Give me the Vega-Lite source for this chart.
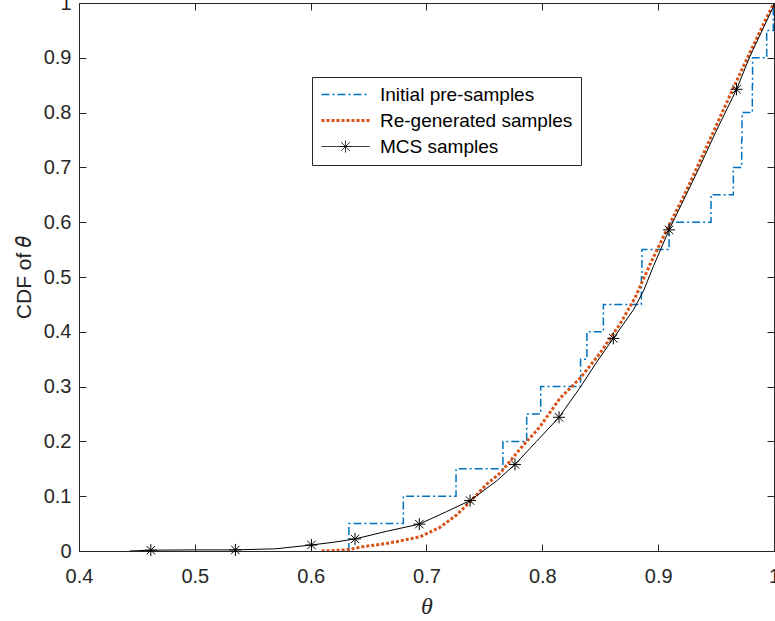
{
  "$schema": "https://vega.github.io/schema/vega-lite/v6.json",
  "width": 695,
  "height": 548,
  "autosize": {"type": "none"},
  "padding": {"left": 79, "top": 3, "right": 1, "bottom": 70},
  "background": "white",
  "config": {
    "view": {"stroke": "#262626", "strokeWidth": 1},
    "axis": {
      "grid": false,
      "labelFont": "Liberation Sans",
      "labelFontSize": 20,
      "labelColor": "#262626",
      "domainColor": "#262626",
      "tickColor": "#262626",
      "tickSize": -7,
      "labelFlush": false,
      "labelOverlap": false,
      "labelBound": false,
      "titleColor": "#262626",
      "titleFontWeight": "normal"
    }
  },
  "datasets": {
    "blue": [
      {"i": 0, "series": "Initial pre-samples", "theta": 0.633, "cdf": 0},
      {"i": 1, "series": "Initial pre-samples", "theta": 0.633, "cdf": 0.05},
      {"i": 2, "series": "Initial pre-samples", "theta": 0.68, "cdf": 0.1},
      {"i": 3, "series": "Initial pre-samples", "theta": 0.7255, "cdf": 0.15},
      {"i": 4, "series": "Initial pre-samples", "theta": 0.766, "cdf": 0.2},
      {"i": 5, "series": "Initial pre-samples", "theta": 0.7865, "cdf": 0.25},
      {"i": 6, "series": "Initial pre-samples", "theta": 0.7986, "cdf": 0.3},
      {"i": 7, "series": "Initial pre-samples", "theta": 0.833, "cdf": 0.35},
      {"i": 8, "series": "Initial pre-samples", "theta": 0.8385, "cdf": 0.4},
      {"i": 9, "series": "Initial pre-samples", "theta": 0.8527, "cdf": 0.45},
      {"i": 10, "series": "Initial pre-samples", "theta": 0.8855, "cdf": 0.5},
      {"i": 11, "series": "Initial pre-samples", "theta": 0.886, "cdf": 0.55},
      {"i": 12, "series": "Initial pre-samples", "theta": 0.9094, "cdf": 0.6},
      {"i": 13, "series": "Initial pre-samples", "theta": 0.9456, "cdf": 0.65},
      {"i": 14, "series": "Initial pre-samples", "theta": 0.9649, "cdf": 0.7},
      {"i": 15, "series": "Initial pre-samples", "theta": 0.9721, "cdf": 0.75},
      {"i": 16, "series": "Initial pre-samples", "theta": 0.9724, "cdf": 0.8},
      {"i": 17, "series": "Initial pre-samples", "theta": 0.9813, "cdf": 0.85},
      {"i": 18, "series": "Initial pre-samples", "theta": 0.9815, "cdf": 0.9},
      {"i": 19, "series": "Initial pre-samples", "theta": 0.9937, "cdf": 0.95},
      {"i": 20, "series": "Initial pre-samples", "theta": 0.9994, "cdf": 1.0},
      {"i": 21, "series": "Initial pre-samples", "theta": 1.0, "cdf": 1.0}
    ],
    "orange": [
      {"series": "Re-generated samples", "theta": 0.6095, "cdf": 0},
      {"series": "Re-generated samples", "theta": 0.62, "cdf": 0.001},
      {"series": "Re-generated samples", "theta": 0.631, "cdf": 0.002},
      {"series": "Re-generated samples", "theta": 0.6455, "cdf": 0.008},
      {"series": "Re-generated samples", "theta": 0.66, "cdf": 0.012},
      {"series": "Re-generated samples", "theta": 0.674, "cdf": 0.017},
      {"series": "Re-generated samples", "theta": 0.6944, "cdf": 0.026},
      {"series": "Re-generated samples", "theta": 0.7116, "cdf": 0.043},
      {"series": "Re-generated samples", "theta": 0.7261, "cdf": 0.066},
      {"series": "Re-generated samples", "theta": 0.7376, "cdf": 0.09},
      {"series": "Re-generated samples", "theta": 0.752, "cdf": 0.122},
      {"series": "Re-generated samples", "theta": 0.7635, "cdf": 0.142},
      {"series": "Re-generated samples", "theta": 0.7807, "cdf": 0.186},
      {"series": "Re-generated samples", "theta": 0.798, "cdf": 0.227},
      {"series": "Re-generated samples", "theta": 0.8153, "cdf": 0.279},
      {"series": "Re-generated samples", "theta": 0.8325, "cdf": 0.315},
      {"series": "Re-generated samples", "theta": 0.8498, "cdf": 0.361},
      {"series": "Re-generated samples", "theta": 0.867, "cdf": 0.414},
      {"series": "Re-generated samples", "theta": 0.88, "cdf": 0.462},
      {"series": "Re-generated samples", "theta": 0.893, "cdf": 0.523},
      {"series": "Re-generated samples", "theta": 0.9074, "cdf": 0.586},
      {"series": "Re-generated samples", "theta": 0.9217, "cdf": 0.646},
      {"series": "Re-generated samples", "theta": 0.936, "cdf": 0.711},
      {"series": "Re-generated samples", "theta": 0.9505, "cdf": 0.778},
      {"series": "Re-generated samples", "theta": 0.9649, "cdf": 0.845},
      {"series": "Re-generated samples", "theta": 0.9793, "cdf": 0.91},
      {"series": "Re-generated samples", "theta": 0.9937, "cdf": 0.974},
      {"series": "Re-generated samples", "theta": 1.0, "cdf": 1.0}
    ],
    "mcs": [
      {"series": "MCS samples", "theta": 0.4436, "cdf": 0},
      {"series": "MCS samples", "theta": 0.462, "cdf": 0.0015},
      {"series": "MCS samples", "theta": 0.5, "cdf": 0.002},
      {"series": "MCS samples", "theta": 0.535, "cdf": 0.002},
      {"series": "MCS samples", "theta": 0.57, "cdf": 0.004},
      {"series": "MCS samples", "theta": 0.6007, "cdf": 0.011},
      {"series": "MCS samples", "theta": 0.62, "cdf": 0.016},
      {"series": "MCS samples", "theta": 0.6383, "cdf": 0.022},
      {"series": "MCS samples", "theta": 0.6656, "cdf": 0.036},
      {"series": "MCS samples", "theta": 0.6938, "cdf": 0.049},
      {"series": "MCS samples", "theta": 0.7174, "cdf": 0.072},
      {"series": "MCS samples", "theta": 0.7376, "cdf": 0.092},
      {"series": "MCS samples", "theta": 0.7606, "cdf": 0.128},
      {"series": "MCS samples", "theta": 0.7764, "cdf": 0.158},
      {"series": "MCS samples", "theta": 0.795, "cdf": 0.2},
      {"series": "MCS samples", "theta": 0.8144, "cdf": 0.244},
      {"series": "MCS samples", "theta": 0.8325, "cdf": 0.298},
      {"series": "MCS samples", "theta": 0.847, "cdf": 0.345},
      {"series": "MCS samples", "theta": 0.8613, "cdf": 0.388},
      {"series": "MCS samples", "theta": 0.8786, "cdf": 0.44},
      {"series": "MCS samples", "theta": 0.8872, "cdf": 0.474},
      {"series": "MCS samples", "theta": 0.8958, "cdf": 0.519},
      {"series": "MCS samples", "theta": 0.9094, "cdf": 0.586},
      {"series": "MCS samples", "theta": 0.9246, "cdf": 0.652},
      {"series": "MCS samples", "theta": 0.936, "cdf": 0.702},
      {"series": "MCS samples", "theta": 0.9505, "cdf": 0.768},
      {"series": "MCS samples", "theta": 0.9677, "cdf": 0.8425},
      {"series": "MCS samples", "theta": 0.9793, "cdf": 0.903},
      {"series": "MCS samples", "theta": 0.9994, "cdf": 0.993},
      {"series": "MCS samples", "theta": 1.0, "cdf": 1.0}
    ],
    "markers": [
      {"theta": 0.462, "cdf": 0.0015},
      {"theta": 0.535, "cdf": 0.002},
      {"theta": 0.6007, "cdf": 0.011},
      {"theta": 0.6383, "cdf": 0.022},
      {"theta": 0.6938, "cdf": 0.049},
      {"theta": 0.7376, "cdf": 0.092},
      {"theta": 0.7764, "cdf": 0.158},
      {"theta": 0.8144, "cdf": 0.244},
      {"theta": 0.8613, "cdf": 0.388},
      {"theta": 0.9094, "cdf": 0.586},
      {"theta": 0.9677, "cdf": 0.8425}
    ]
  },
  "resolve": {"axis": {"x": "independent", "y": "independent"}},
  "layer": [
    {
      "data": {"name": "blue"},
      "mark": {"type": "line", "interpolate": "step-after", "strokeWidth": 1.5, "strokeDash": [8, 3, 2, 3], "clip": true},
      "encoding": {
        "x": {"field": "theta", "type": "quantitative", "scale": {"domain": [0.4, 1], "nice": false, "zero": false},
          "axis": {"values": [0.4, 0.5, 0.6, 0.7, 0.8, 0.9, 1], "format": "~g", "labelPadding": 22, "title": "θ", "titleFont": "Liberation Serif", "titleFontStyle": "italic", "titleFontSize": 24, "titlePadding": 8}},
        "y": {"field": "cdf", "type": "quantitative", "scale": {"domain": [0, 1], "nice": false},
          "axis": {"values": [0, 0.1, 0.2, 0.3, 0.4, 0.5, 0.6, 0.7, 0.8, 0.9, 1], "format": "~g", "labelPadding": 15, "title": "CDF of 𝜃", "titleFont": "Liberation Sans", "titleFontSize": 21, "titlePadding": 9}},
        "order": {"field": "i", "type": "quantitative"},
        "color": {"field": "series", "type": "nominal",
          "scale": {"domain": ["Initial pre-samples", "Re-generated samples", "MCS samples"], "range": ["#0072BD", "#D95319", "#000000"]},
          "legend": {
            "orient": "none", "legendX": 233, "legendY": 74, "title": null,
            "fillColor": "white", "strokeColor": "#262626", "padding": 8,
            "labelFont": "Liberation Sans", "labelFontSize": 19, "labelColor": "#000000",
            "labelLimit": 400,
            "labelExpr": "datum.label + '\u00a0\u00a0\u00a0\u00a0'",
            "symbolSize": 256, "rowPadding": 6, "labelOffset": 41,
            "symbolType": "M-1,0L5,0",
            "encode": {
              "symbols": {"update": {
                "shape": {"signal": "datum.value == 'MCS samples' ? 'M-1,0L5,0M2,-0.75L2,0.75M1.47,-0.53L2.53,0.53M1.47,0.53L2.53,-0.53M1.25,0L2.75,0' : 'M-1,0L5,0'"},
                "strokeDash": {"signal": "datum.value == 'Initial pre-samples' ? [8,3,2,3] : datum.value == 'Re-generated samples' ? [3,2] : [1,0]"},
                "strokeWidth": {"signal": "datum.value == 'Initial pre-samples' ? 1.5 : datum.value == 'Re-generated samples' ? 3 : 1"},
                "fill": {"value": "transparent"}
              }}
            }
          }}
      }
    },
    {
      "data": {"name": "orange"},
      "mark": {"type": "line", "strokeWidth": 3, "strokeDash": [3, 2], "clip": true},
      "encoding": {
        "x": {"field": "theta", "type": "quantitative", "axis": null},
        "y": {"field": "cdf", "type": "quantitative", "axis": null},
        "color": {"field": "series", "type": "nominal"}
      }
    },
    {
      "data": {"name": "mcs"},
      "mark": {"type": "line", "strokeWidth": 1, "clip": true},
      "encoding": {
        "x": {"field": "theta", "type": "quantitative", "axis": null},
        "y": {"field": "cdf", "type": "quantitative", "axis": null},
        "color": {"field": "series", "type": "nominal"}
      }
    },
    {
      "data": {"name": "markers"},
      "mark": {"type": "point", "shape": "M-1,0L1,0M0,-1L0,1M-0.7,-0.7L0.7,0.7M-0.7,0.7L0.7,-0.7", "size": 144, "filled": false, "stroke": "#000000", "strokeWidth": 1, "opacity": 1},
      "encoding": {
        "x": {"field": "theta", "type": "quantitative",
          "axis": {"orient": "top", "values": [0.4, 0.5, 0.6, 0.7, 0.8, 0.9, 1], "labels": false, "title": null, "domain": false}},
        "y": {"field": "cdf", "type": "quantitative",
          "axis": {"orient": "right", "values": [0, 0.1, 0.2, 0.3, 0.4, 0.5, 0.6, 0.7, 0.8, 0.9, 1], "labels": false, "title": null, "domain": false}}
      }
    }
  ]
}
